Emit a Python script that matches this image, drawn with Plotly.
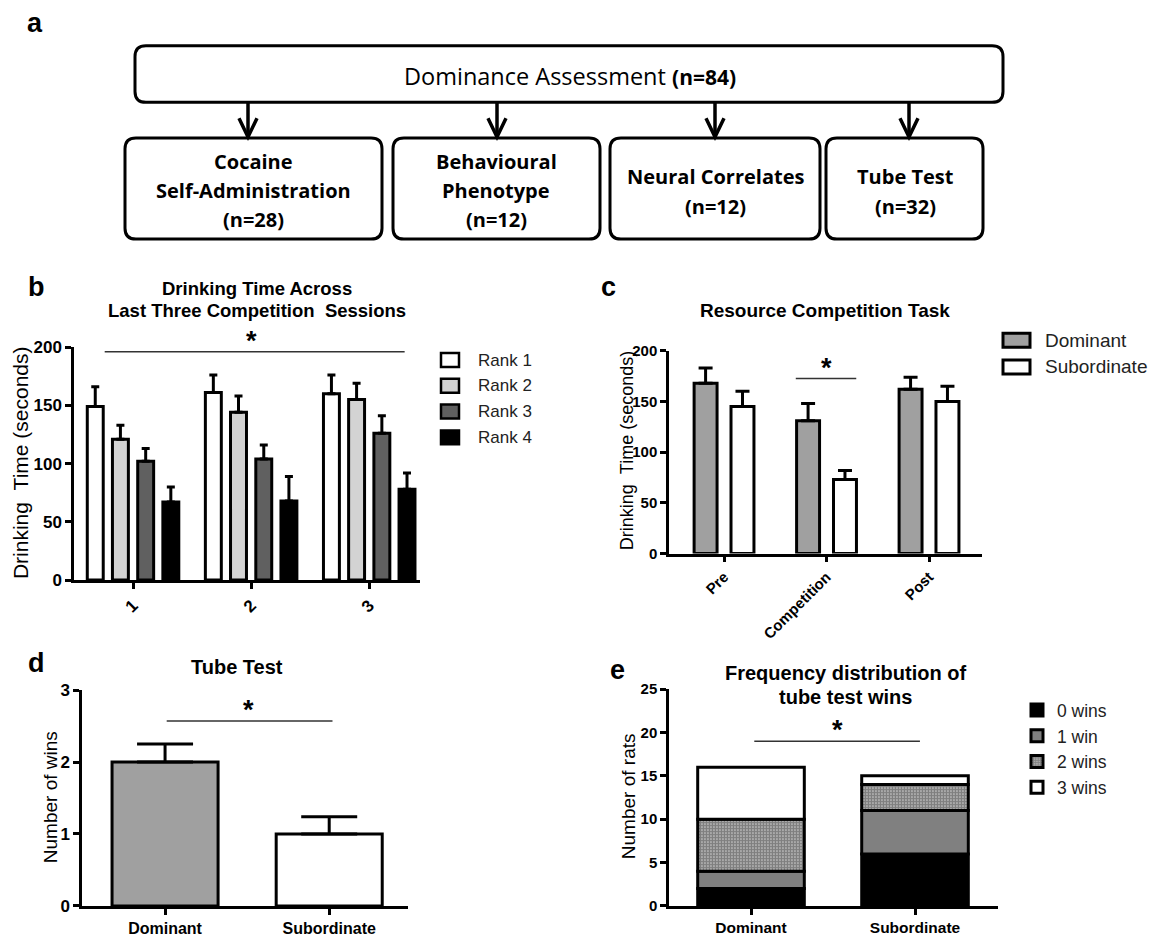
import plotly.graph_objects as go

W, H = 1155, 937

# ---------------- data ----------------
# Panel b: drinking time across last three competition sessions
sessions = [1, 2, 3]
session_labels = ["1", "2", "3"]
rank_names = ["Rank 1", "Rank 2", "Rank 3", "Rank 4"]
rank1 = [149, 161, 160]
rank1_err = [17, 15, 16]
rank2 = [121, 144, 155]
rank2_err = [12, 14, 14]
rank3 = [102, 104, 126]
rank3_err = [11, 12, 15]
rank4 = [67, 68, 78]
rank4_err = [13, 21, 14]

# Panel c: resource competition task
phase_pos = [1, 2, 3]
phases = ["Pre", "Competition", "Post"]
group_names = ["Dominant", "Subordinate"]
dominant_c = [168, 131, 162]
dominant_c_err = [15, 17, 12]
subordinate_c = [145, 73, 150]
subordinate_c_err = [15, 9, 15]

# Panel d: tube test
grp_pos = [1, 2]
groups = ["Dominant", "Subordinate"]
wins_mean = [2.0, 1.0]
wins_sem = [0.25, 0.24]

# Panel e: frequency distribution of tube test wins
win_cats = ["0 wins", "1 win", "2 wins", "3 wins"]
wins0 = [2, 6]
wins1 = [2, 5]
wins2 = [6, 3]
wins3 = [6, 1]

# significance markers (data coords)
sig_b = dict(x0=0.76, x1=3.30, y=196, xs=2.0)
sig_c = dict(x0=1.70, x1=2.29, y=172.6, xs=2.0)
sig_d = dict(x0=1.01, x1=2.02, y=2.57, xs=1.51)
sig_e = dict(x0=1.02, x1=2.03, y=19.0, xs=1.53)

# ---------------- helpers ----------------
ARIAL = "Liberation Sans, Arial, sans-serif"
CAL = "Open Sans, Lato, sans-serif"
NB = "\u00a0"

# vertical calibration of the page photograph (measured offset / scale)
Y_OFF, Y_SCALE = 7.9, 0.9808


def px(x):
    return x / W


def py(y):
    return 1 - ((y - Y_OFF) / Y_SCALE) / H


fig = go.Figure()


def err(arr, w, th=3):
    return dict(type="data", array=arr, arrayminus=[0] * len(arr), symmetric=False,
                color="black", thickness=th, width=w)


# ---------------- panel b ----------------
b_series = [(rank1, rank1_err, "white"), (rank2, rank2_err, "#d3d3d3"),
            (rank3, rank3_err, "#606060"), (rank4, rank4_err, "black")]
b_centers = [-0.32, -0.107, 0.107, 0.32]
bw = 0.135
for (vals, errs, col), c in zip(b_series, b_centers):
    fig.add_trace(go.Bar(x=sessions, y=vals, width=bw, offset=c - bw / 2,
                         marker=dict(color=col, line=dict(color="black", width=3)),
                         error_y=err(errs, 4), xaxis="x", yaxis="y", showlegend=False))

# ---------------- panel c ----------------
cw = 0.224
for vals, errs, col, c in [(dominant_c, dominant_c_err, "#a0a0a0", -0.18),
                           (subordinate_c, subordinate_c_err, "white", 0.18)]:
    fig.add_trace(go.Bar(x=phase_pos, y=vals, width=cw, offset=c - cw / 2,
                         marker=dict(color=col, line=dict(color="black", width=3)),
                         error_y=err(errs, 7), xaxis="x2", yaxis="y2", showlegend=False))

# ---------------- panel d ----------------
dw = 0.646
fig.add_trace(go.Bar(x=grp_pos, y=wins_mean, width=dw, offset=-dw / 2,
                     marker=dict(color=["#a0a0a0", "white"], line=dict(color="black", width=3)),
                     error_y=err(wins_sem, 28), xaxis="x3", yaxis="y3", showlegend=False))

# ---------------- panel e ----------------
ew = 0.65
e_series = [wins0, wins1, wins2, wins3]
e_colors = ["black", "#808080", "white", "white"]
base = [0, 0]
for name, vals, col in zip(win_cats, e_series, e_colors):
    mk = dict(color=col, line=dict(color="black", width=3))
    if name == "2 wins":
        mk["pattern"] = dict(shape=".", size=3, solidity=0.8, fgcolor="#000", bgcolor="white")
    fig.add_trace(go.Bar(x=grp_pos, y=vals, base=list(base), width=ew, offset=-ew / 2,
                         name=name, marker=mk, xaxis="x4", yaxis="y4", showlegend=True))
    base = [b + v for b, v in zip(base, vals)]

# ---------------- axes ----------------
common = dict(showline=True, linecolor="black", linewidth=2.5, ticks="outside",
              tickcolor="black", tickwidth=2.5, ticklen=6, showgrid=False,
              zeroline=False, fixedrange=True)


def tf(size):
    return dict(family=ARIAL, size=size, color="black", weight="bold")


layout = dict(
    width=W, height=H, margin=dict(l=0, r=0, t=0, b=0),
    paper_bgcolor="white", plot_bgcolor="white", barmode="overlay",
    xaxis=dict(domain=[px(74), px(420)], range=[0.5, 3.43], tickvals=sessions,
               ticktext=session_labels, tickangle=-45, anchor="y", tickfont=tf(17), **common),
    yaxis=dict(domain=[py(584), py(349)], range=[0, 200], tickvals=[0, 50, 100, 150, 200],
               anchor="x", tickfont=tf(17), **common),
    xaxis2=dict(domain=[px(669), px(982)], range=[0.463, 3.517], tickvals=phase_pos,
                ticktext=phases, tickangle=-45, anchor="y2", tickfont=tf(15), **common),
    yaxis2=dict(domain=[py(557.3), py(352.7)], range=[0, 200], tickvals=[0, 50, 100, 150, 200],
                anchor="x2", tickfont=tf(15), **common),
    xaxis3=dict(domain=[px(82), px(408)], range=[0.494, 2.48], tickvals=grp_pos,
                ticktext=groups, anchor="y3", tickfont=tf(16), **common),
    yaxis3=dict(domain=[py(912.7), py(695)], range=[0, 3], tickvals=[0, 1, 2, 3],
                anchor="x3", tickfont=tf(17), **common),
    xaxis4=dict(domain=[px(669), px(998)], range=[0.5, 2.506], tickvals=grp_pos,
                ticktext=groups, anchor="y4", tickfont=tf(15.5), **common),
    yaxis4=dict(domain=[py(912.7), py(694)], range=[0, 25], tickvals=[0, 5, 10, 15, 20, 25],
                anchor="x4", tickfont=tf(15), **common),
    legend=dict(x=px(1017), y=py(697), xanchor="left", yanchor="top", traceorder="normal",
                font=dict(family=ARIAL, size=17.5, color="#222"), bgcolor="rgba(0,0,0,0)",
                itemclick=False, itemdoubleclick=False),
)
fig.update_layout(**layout)

shapes = []
ann = []

# significance lines + asterisks
for s, xr, yr in [(sig_b, "x", "y"), (sig_c, "x2", "y2"), (sig_d, "x3", "y3"), (sig_e, "x4", "y4")]:
    shapes.append(dict(type="line", xref=xr, yref=yr, x0=s["x0"], x1=s["x1"], y0=s["y"], y1=s["y"],
                       line=dict(color="#333", width=1.5)))
    ann.append(dict(xref=xr, yref=yr, x=s["xs"], y=s["y"], text="<b>*</b>", showarrow=False,
                    yanchor="bottom", yshift=-6, font=dict(family=ARIAL, size=27, color="black")))


# ---------------- panel a (flow diagram) ----------------
def rrect(x0, y0, x1, y1, r=11):
    p = (f"M {px(x0 + r)},{py(y0)} L {px(x1 - r)},{py(y0)} Q {px(x1)},{py(y0)} {px(x1)},{py(y0 + r)} "
         f"L {px(x1)},{py(y1 - r)} Q {px(x1)},{py(y1)} {px(x1 - r)},{py(y1)} "
         f"L {px(x0 + r)},{py(y1)} Q {px(x0)},{py(y1)} {px(x0)},{py(y1 - r)} "
         f"L {px(x0)},{py(y0 + r)} Q {px(x0)},{py(y0)} {px(x0 + r)},{py(y0)} Z")
    return dict(type="path", xref="paper", yref="paper", path=p,
                line=dict(color="black", width=3), fillcolor="rgba(0,0,0,0)")


shapes.append(rrect(135, 45, 1003, 102))
boxes = [(125, 382), (393, 600), (610, 820), (826, 983)]
arrows_x = [248, 497, 715, 909]
for x0, x1 in boxes:
    shapes.append(rrect(x0, 138, x1, 240))
for ax in arrows_x:
    shapes.append(dict(type="line", xref="paper", yref="paper", x0=px(ax), x1=px(ax),
                       y0=py(102), y1=py(136), line=dict(color="black", width=3.5)))
    shapes.append(dict(type="path", xref="paper", yref="paper",
                       path=f"M {px(ax - 9)},{py(118)} L {px(ax)},{py(137)} L {px(ax + 9)},{py(118)}",
                       line=dict(color="black", width=3.5)))


def txt(x, y, t, size, family=ARIAL, xanchor="center", angle=0, color="black"):
    ann.append(dict(xref="paper", yref="paper", x=px(x), y=py(y), text=t, showarrow=False,
                    xanchor=xanchor, yanchor="middle", textangle=angle,
                    font=dict(family=family, size=size, color=color)))


txt(570, 75, "Dominance Assessment <b><span style='font-size:21px'>(n=84)</span></b>", 23.5, CAL)
box_lines = [
    (253, [(162, "Cocaine"), (191, "Self-Administration"), (220, "(n=28)")]),
    (496, [(162, "Behavioural"), (191, "Phenotype"), (220, "(n=12)")]),
    (715, [(177, "Neural Correlates"), (207, "(n=12)")]),
    (905, [(177, "Tube Test"), (207, "(n=32)")]),
]
for cx, lines in box_lines:
    for yy, t in lines:
        txt(cx, yy, f"<b>{t}</b>", 20, CAL)

# panel letters
txt(35, 22, "<b>a</b>", 27)
txt(36, 288, "<b>b</b>", 27)
txt(608, 288, "<b>c</b>", 27)
txt(36, 668, "<b>d</b>", 27)
txt(617, 675, "<b>e</b>", 27)

# titles
txt(257, 290, "<b>Drinking Time Across</b>", 18.5)
txt(257, 312, f"<b>Last Three Competition{NB}{NB}Sessions</b>", 18.5)
txt(825, 312, "<b>Resource Competition Task</b>", 19)
txt(237, 672, "<b>Tube Test</b>", 20)
txt(845, 678, "<b>Frequency distribution of</b>", 20)
txt(845, 702, "<b>tube test wins</b>", 20)

# y titles
txt(20, 466, f"Drinking{NB}{NB}Time (seconds)", 21, angle=-90)
txt(627, 454, f"Drinking{NB}{NB}Time (seconds)", 18, angle=-90)
txt(50, 803, "Number of wins", 19, angle=-90)
txt(628, 802, "Number of rats", 19, angle=-90)

# legend b (drawn)
b_leg_cols = ["white", "#d3d3d3", "#606060", "black"]
for i, (nm, col) in enumerate(zip(rank_names, b_leg_cols)):
    yc = 362 + 26 * i
    shapes.append(dict(type="rect", xref="paper", yref="paper", x0=px(441), x1=px(459),
                       y0=py(yc - 7), y1=py(yc + 7), fillcolor=col, line=dict(color="black", width=2.5)))
    txt(476, yc, nm, 17, xanchor="left", color="#222")

# legend c (drawn)
for i, (nm, col) in enumerate(zip(group_names, ["#a0a0a0", "white"])):
    yc = 342 + 27 * i
    shapes.append(dict(type="rect", xref="paper", yref="paper", x0=px(1003), x1=px(1030),
                       y0=py(yc - 7), y1=py(yc + 7), fillcolor=col, line=dict(color="black", width=3)))
    txt(1043, yc, nm, 19, xanchor="left", color="#222")

fig.update_layout(shapes=shapes, annotations=ann)
fig.write_html(
    "out.html",
    config={"displayModeBar": False, "responsive": False},
    post_script=("document.documentElement.style.margin='0px';"
                 "document.body.style.margin='0px';document.body.style.overflow='hidden';"
                 "document.documentElement.style.overflow='hidden';"
                 "var gd=document.getElementById('{plot_id}');"
                 "gd.style.position='fixed';gd.style.top='0px';gd.style.left='0px';"),
)
